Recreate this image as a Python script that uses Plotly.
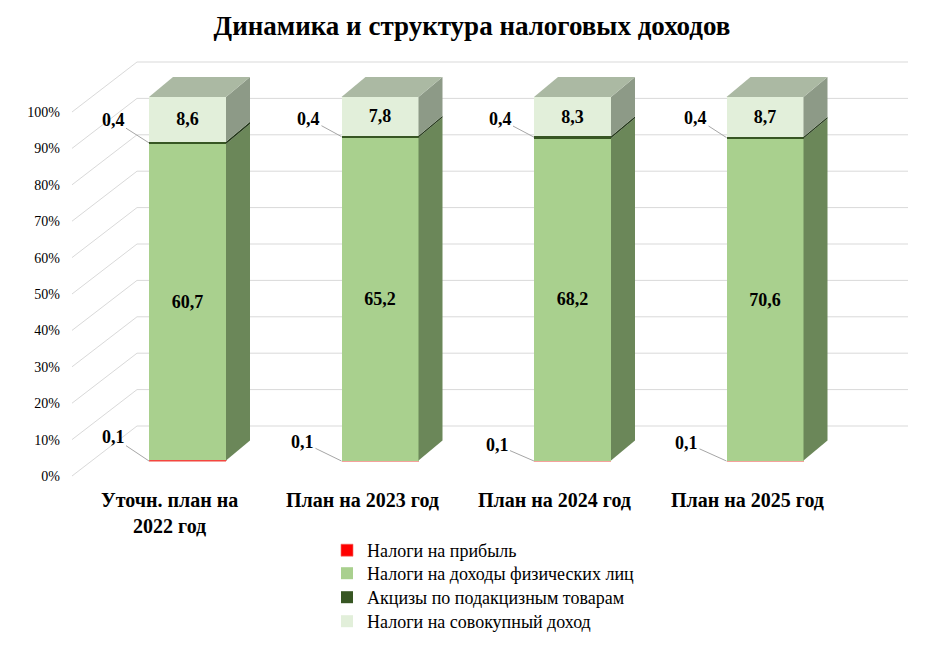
import plotly.graph_objects as go

# ---------------- data ----------------
categories = ["Уточн. план на<br>2022 год", "План на 2023 год", "План на 2024 год", "План на 2025 год"]
series_names = ["Налоги на прибыль", "Налоги на доходы физических лиц",
                "Акцизы по подакцизным товарам", "Налоги на совокупный доход"]
profit = [0.1, 0.1, 0.1, 0.1]
ndfl = [60.7, 65.2, 68.2, 70.6]
excise = [0.4, 0.4, 0.4, 0.4]
aggregate = [8.6, 7.8, 8.3, 8.7]
y_ticks = [0, 10, 20, 30, 40, 50, 60, 70, 80, 90, 100]
y_tick_labels = [f"{v}%" for v in y_ticks]

series_values = [profit, ndfl, excise, aggregate]
front_colors = ["#ff0000", "#a9d08e", "#375623", "#e2efda"]
side_colors = ["#b00000", "#6b8759", "#24391a", "#8d9a87"]
outline = [dict(width=0.8, color="rgba(240,110,100,0.8)"), dict(width=0),
           dict(width=0), dict(width=0)]
top_color = "#abb9a3"
FONT = "Liberation Serif"

# ---------------- geometry (page pixel targets, body margin 8px) ----------------
OFF = 8
W, H = 945 - OFF, 646 - OFF
def fx(p): return p - OFF          # page px -> figure px
SX, X0PX = 192.5, fx(187.5)        # px per category, px of first category
SY, Y0PX = 3.64, fx(461.0)         # px per percent, px of 0 %
x_range = [(0 - X0PX) / SX, (W - X0PX) / SX]
y_range = [(Y0PX - H) / SY, Y0PX / SY]
BAR_W = 0.4
DX = 24 / SX                       # depth offset in x units
DY = 20 / SY                       # depth offset in y units

def px(xp): return fx(xp) / W      # page px -> paper x
def py(yp): return 1 - fx(yp) / H  # page px -> paper y

def fmt(v):
    return f"{v:.1f}".replace(".", ",")

fig = go.Figure()
xs = list(range(len(categories)))
totals = [sum(s[i] for s in series_values) for i in xs]
legend_ids = ["legend", "legend2", "legend3", "legend4"]

for k, (name, vals) in enumerate(zip(series_names, series_values)):
    show_text = k in (1, 3)
    fig.add_trace(go.Bar(
        x=xs, y=vals, name=name, width=BAR_W, legend=legend_ids[k],
        marker=dict(color=front_colors[k], line=outline[k]),
        text=[f"<b>{fmt(v)}</b>" for v in vals] if show_text else None,
        textposition="inside" if show_text else "none",
        insidetextanchor="middle", textangle=0,
        textfont=dict(family=FONT, size=18, color="black"),
        constraintext="none",
    ))

# 3D side and top faces derived from the normalized data
for i in xs:
    cum = 0.0
    r = i + BAR_W / 2
    l = i - BAR_W / 2
    for k, vals in enumerate(series_values):
        b = cum / totals[i] * 100
        cum += vals[i]
        t = cum / totals[i] * 100
        fig.add_trace(go.Scatter(
            x=[r, r + DX, r + DX, r, r], y=[b, b + DY, t + DY, t, b],
            fill="toself", fillcolor=side_colors[k], mode="lines",
            line=dict(width=0), showlegend=False, hoverinfo="skip"))
    fig.add_trace(go.Scatter(
        x=[l, r, r + DX, l + DX, l], y=[100, 100, 100 + DY, 100 + DY, 100],
        fill="toself", fillcolor=top_color, mode="lines",
        line=dict(width=0), showlegend=False, hoverinfo="skip"))

# dummy trace for the tick-label axis
fig.add_trace(go.Scatter(x=[None], y=[None], yaxis="y2", showlegend=False, hoverinfo="skip"))

# 3D gridlines (decoration) in paper coords
shapes = []
for v in y_ticks:
    yf = 461.0 - v * SY
    shapes.append(dict(type="line", xref="paper", yref="paper", layer="below",
                       x0=px(72), y0=py(yf + 15), x1=px(137), y1=py(yf - 35),
                       line=dict(color="#d9d9d9", width=1)))
    shapes.append(dict(type="line", xref="paper", yref="paper", layer="below",
                       x0=px(137), y0=py(yf - 35), x1=px(908), y1=py(yf - 35),
                       line=dict(color="#d9d9d9", width=1)))

# labels for the small series with leader lines
ann = []
lab_font = dict(family=FONT, size=18, color="black")
offs_small = [(-36, -24), (-39, -19), (-37, -16), (-40, -18)]
offs_exc = [(-36, -23), (-33, -18), (-34, -18), (-31, -20)]
for i in xs:
    l = i - BAR_W / 2
    ann.append(dict(x=l, y=0, xref="x", yref="y", text=f"<b>{fmt(profit[i])}</b>",
                    showarrow=True, arrowhead=0, arrowwidth=1, arrowcolor="#a6a6a6",
                    ax=offs_small[i][0], ay=offs_small[i][1], font=lab_font))
    mid = (profit[i] + ndfl[i] + excise[i] / 2) / totals[i] * 100
    ann.append(dict(x=l, y=mid, xref="x", yref="y", text=f"<b>{fmt(excise[i])}</b>",
                    showarrow=True, arrowhead=0, arrowwidth=1, arrowcolor="#a6a6a6",
                    ax=offs_exc[i][0], ay=offs_exc[i][1], font=lab_font))
    # category labels
    ann.append(dict(x=i, y=py(487), xref="x", yref="paper", xshift=-18,
                    text=f"<b>{categories[i]}</b>", showarrow=False,
                    yanchor="top", align="center",
                    font=dict(family=FONT, size=20, color="black")))

legend_tops = [532, 555, 579, 603]
legend_layout = {}
for lid, top in zip(legend_ids, legend_tops):
    legend_layout[lid] = dict(x=px(327), y=py(top), xanchor="left", yanchor="top",
                              bgcolor="rgba(0,0,0,0)",
                              font=dict(family=FONT, size=18, color="black"))

fig.update_layout(
    width=W, height=H,
    margin=dict(l=0, r=0, t=0, b=0),
    font=dict(family=FONT, color="black"),
    paper_bgcolor="white", plot_bgcolor="rgba(0,0,0,0)",
    barmode="stack", barnorm="percent",
    title=dict(text="<b>Динамика и структура налоговых доходов</b>",
               x=px(472), xanchor="center", y=py(26), yanchor="middle",
               font=dict(family=FONT, size=27, color="black")),
    xaxis=dict(range=x_range, visible=False, domain=[0, 1]),
    yaxis=dict(range=y_range, visible=False, domain=[0, 1]),
    yaxis2=dict(range=[y_range[0] + 15 / SY, y_range[1] + 15 / SY],
                overlaying="y", anchor="free", position=px(60), side="left",
                tickmode="array", tickvals=y_ticks, ticktext=y_tick_labels,
                showgrid=False, zeroline=False, showline=False, ticks="",
                tickfont=dict(family=FONT, size=14, color="black")),
    shapes=shapes, annotations=ann,
    showlegend=True,
    **legend_layout,
)

fig.write_html("out.html")
